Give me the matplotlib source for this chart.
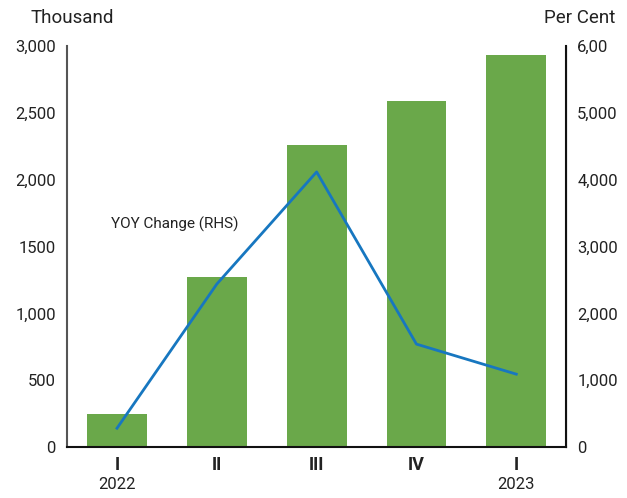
import matplotlib.pyplot as plt
import numpy as np

plt.rcParams['font.family'] = ['Roboto', 'DejaVu Sans']

# Quarterly values
quarters = ['I', 'II', 'III', 'IV', 'I']
years = ['2022', '', '', '', '2023']
thousand = [247, 1272, 2259, 2589, 2933]
yoy_change = [284, 2439, 4115, 1541, 1092]

left_ticks = [0, 500, 1000, 1500, 2000, 2500, 3000]
left_labels = ['0', '500', '1,000', '1500', '2,000', '2,500', '3,000']
right_ticks = [0, 1000, 2000, 3000, 4000, 5000, 6000]
right_labels = ['0', '1,000', '2,000', '3,000', '4,000', '5,000', '6,00']

green = '#6aa84a'
blue = '#1777c0'

fig = plt.figure(figsize=(6.27, 4.98), dpi=100)
ax = fig.add_axes([0.107, 0.102, 0.796, 0.806])
x = np.arange(len(quarters))
ax.bar(x, thousand, width=0.6, color=green, zorder=2)
ax.set_xlim(-0.5, len(quarters) - 0.5)
ax.set_ylim(0, 3000)
ax.set_yticks(left_ticks)
ax.set_yticklabels(left_labels, fontsize=12, color='#222222')
ax.set_xticks(x)
ax.set_xticklabels(quarters, fontsize=13, fontweight='bold', color='#222222')
ax.tick_params(axis='y', length=0, pad=8)
ax.tick_params(axis='x', length=0, pad=6)
for xi, yr in zip(x, years):
    ax.text(xi, -0.074, yr, transform=ax.get_xaxis_transform(), ha='center',
            va='top', fontsize=12, color='#222222')

ax.spines['top'].set_visible(False)
ax.spines['left'].set_color('#555555')
ax.spines['left'].set_linewidth(1.5)
ax.spines['bottom'].set_color('#111111')
ax.spines['bottom'].set_linewidth(1.5)

ax2 = ax.twinx()
ax2.plot(x, yoy_change, color=blue, linewidth=2)
ax2.set_ylim(0, 6000)
ax2.set_yticks(right_ticks)
ax2.set_yticklabels(right_labels, fontsize=12, color='#222222')
ax2.tick_params(axis='y', length=0, pad=8)
ax2.spines['top'].set_visible(False)
ax2.spines['left'].set_visible(False)
ax2.spines['bottom'].set_visible(False)
ax2.spines['right'].set_color('#111111')
ax2.spines['right'].set_linewidth(1.5)

ax.text(0.58, 1668, 'YOY Change (RHS)', ha='center', va='center',
        fontsize=11, color='#222222')

fig.text(0.048, 0.963, 'Thousand', fontsize=13.5, color='#222222', va='center')
fig.text(0.982, 0.963, 'Per Cent', fontsize=13.5, color='#222222', va='center', ha='right')

fig.savefig('out.png', dpi=100)
